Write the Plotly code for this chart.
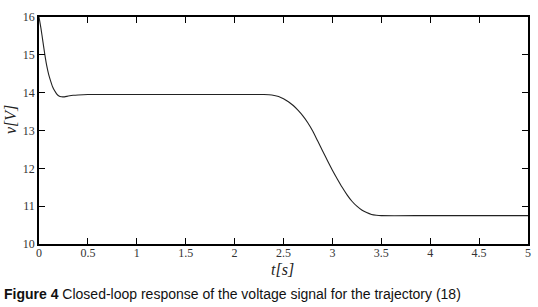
import plotly.graph_objects as go

t_vals = [0, 0.02, 0.04, 0.06, 0.08, 0.1, 0.12, 0.14, 0.16, 0.18, 0.2, 0.23, 0.26, 0.3, 0.35, 0.4, 0.5,
          1.0, 2.0, 2.3, 2.38, 2.45, 2.5, 2.55, 2.6, 2.65, 2.7, 2.75, 2.8, 2.85, 2.9, 2.95, 3.0, 3.05,
          3.1, 3.15, 3.2, 3.25, 3.3, 3.35, 3.4, 3.45, 3.5, 4.0, 5.0]
v_vals = [16.0, 15.7, 15.35, 15.0, 14.7, 14.47, 14.3, 14.15, 14.05, 13.97, 13.92, 13.89, 13.89, 13.91,
          13.93, 13.94, 13.95, 13.95, 13.95, 13.95, 13.94, 13.9, 13.84, 13.76, 13.66, 13.53, 13.38,
          13.2, 12.98, 12.72, 12.46, 12.2, 11.95, 11.72, 11.5, 11.3, 11.13, 11.0, 10.9, 10.83, 10.78,
          10.76, 10.75, 10.75, 10.75]

x_ticks = [0, 0.5, 1, 1.5, 2, 2.5, 3, 3.5, 4, 4.5, 5]
x_tick_text = ["0", "0.5", "1", "1.5", "2", "2.5", "3", "3.5", "4", "4.5", "5"]
y_ticks = [10, 11, 12, 13, 14, 15, 16]
y_tick_text = ["10", "11", "12", "13", "14", "15", "16"]

W, H = 538, 307
ML, MR, MT, MB = 39, 10, 17, 63
plot_w = W - ML - MR
plot_h = H - MT - MB


def px_to_paper(px, py):
    return (px - ML) / plot_w, (H - MB - py) / plot_h


fig = go.Figure()
fig.add_trace(go.Scatter(x=t_vals, y=v_vals, mode="lines",
                         line=dict(color="#222222", width=1.1, shape="spline", smoothing=0.6),
                         showlegend=False, hoverinfo="skip", cliponaxis=False))

serif = "Liberation Serif, Times New Roman, serif"
axis_common = dict(showgrid=False, zeroline=False, showline=True, linecolor="black", linewidth=1.5,
                   mirror="ticks", ticks="inside", ticklen=6, tickwidth=1.2, tickcolor="black",
                   tickfont=dict(family=serif, size=12, color="#333333"))

vx, vy = px_to_paper(10, 120)
tx, ty = px_to_paper(282, 269)
cx, cy = px_to_paper(2, 294)

fig.update_layout(
    width=W, height=H,
    margin=dict(l=ML, r=MR, t=MT, b=MB, autoexpand=False),
    paper_bgcolor="white", plot_bgcolor="white",
    xaxis=dict(range=[0, 5], tickvals=x_ticks, ticktext=x_tick_text, ticklabelstandoff=-3, **axis_common),
    yaxis=dict(range=[10, 16], tickvals=y_ticks, ticktext=y_tick_text, **axis_common),
    annotations=[
        dict(text="<i>t[s]</i>", x=tx, xref="paper", y=ty, yref="paper", yanchor="middle",
             showarrow=False, font=dict(family=serif, size=16, color="#222222")),
        dict(text="<i>v[V]</i>", x=vx, xref="paper", xanchor="center", y=vy, yref="paper",
             showarrow=False, textangle=-90, font=dict(family=serif, size=16, color="#222222")),
        dict(text="<b>Figure 4</b> Closed-loop response of the voltage signal for the trajectory (18)",
             x=cx, xref="paper", xanchor="left", y=cy, yref="paper", yanchor="middle",
             showarrow=False, font=dict(family="Liberation Sans, Arial, sans-serif", size=14, color="#111111")),
    ],
)

fig.write_html("out.html", config={"displayModeBar": False},
               post_script="document.body.style.margin='0';document.body.style.overflow='hidden';")
